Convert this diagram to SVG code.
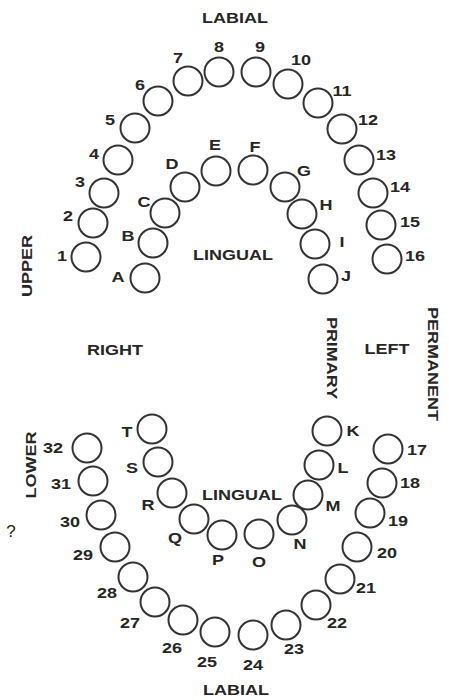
<svg xmlns="http://www.w3.org/2000/svg" width="449" height="700" viewBox="0 0 449 700">
  <style>
    .tooth { fill: #ffffff; stroke: #333333; stroke-width: 2; }
    .lbl { font-family: "Liberation Sans", Arial, sans-serif; font-weight: bold; font-size: 15px; fill: #262626; text-anchor: middle; }
    .q { font-family: "Liberation Sans", Arial, sans-serif; font-size: 17px; fill: #222; text-anchor: middle; }
  </style>
  <rect width="449" height="700" fill="#ffffff"/>

  <!-- Orientation labels -->
  <g id="orientation">
    <text class="lbl" transform="translate(235 23) scale(1.2 1)">LABIAL</text>
    <text class="lbl" transform="translate(236 695) scale(1.2 1)">LABIAL</text>
    <text class="lbl" transform="translate(233 260) scale(1.2 1)">LINGUAL</text>
    <text class="lbl" transform="translate(242 500) scale(1.2 1)">LINGUAL</text>
    <text class="lbl" transform="translate(115 355) scale(1.2 1)">RIGHT</text>
    <text class="lbl" transform="translate(387 354) scale(1.2 1)">LEFT</text>
    <text class="lbl" transform="translate(32 266) rotate(-90) scale(1.2 1)">UPPER</text>
    <text class="lbl" transform="translate(36 465) rotate(-90) scale(1.2 1)">LOWER</text>
    <text class="lbl" transform="translate(327 358) rotate(90) scale(1.2 1)">PRIMARY</text>
    <text class="lbl" transform="translate(428 364) rotate(90) scale(1.2 1)">PERMANENT</text>
    <text class="q" x="11" y="537">?</text>
  </g>

  <!-- Upper permanent teeth 1-16 -->
  <g id="tooth-1"><circle class="tooth" cx="86" cy="257" r="14.5"/><text class="lbl" transform="translate(62 261) scale(1.2 1)">1</text></g>
  <g id="tooth-2"><circle class="tooth" cx="93" cy="223" r="14.5"/><text class="lbl" transform="translate(68 221) scale(1.2 1)">2</text></g>
  <g id="tooth-3"><circle class="tooth" cx="104" cy="193" r="14.5"/><text class="lbl" transform="translate(80 187) scale(1.2 1)">3</text></g>
  <g id="tooth-4"><circle class="tooth" cx="118" cy="160" r="14.5"/><text class="lbl" transform="translate(94 159) scale(1.2 1)">4</text></g>
  <g id="tooth-5"><circle class="tooth" cx="135" cy="128" r="14.5"/><text class="lbl" transform="translate(110 125) scale(1.2 1)">5</text></g>
  <g id="tooth-6"><circle class="tooth" cx="158" cy="101" r="14.5"/><text class="lbl" transform="translate(140 90) scale(1.2 1)">6</text></g>
  <g id="tooth-7"><circle class="tooth" cx="188" cy="81" r="14.5"/><text class="lbl" transform="translate(178 63) scale(1.2 1)">7</text></g>
  <g id="tooth-8"><circle class="tooth" cx="219" cy="72" r="14.5"/><text class="lbl" transform="translate(219 52) scale(1.2 1)">8</text></g>
  <g id="tooth-9"><circle class="tooth" cx="256" cy="72" r="14.5"/><text class="lbl" transform="translate(260 52) scale(1.2 1)">9</text></g>
  <g id="tooth-10"><circle class="tooth" cx="288" cy="84" r="14.5"/><text class="lbl" transform="translate(301 65) scale(1.2 1)">10</text></g>
  <g id="tooth-11"><circle class="tooth" cx="318" cy="103" r="14.5"/><text class="lbl" transform="translate(342 96) scale(1.2 1)">11</text></g>
  <g id="tooth-12"><circle class="tooth" cx="342" cy="129" r="14.5"/><text class="lbl" transform="translate(368 125) scale(1.2 1)">12</text></g>
  <g id="tooth-13"><circle class="tooth" cx="359" cy="160" r="14.5"/><text class="lbl" transform="translate(386 160) scale(1.2 1)">13</text></g>
  <g id="tooth-14"><circle class="tooth" cx="373" cy="193" r="14.5"/><text class="lbl" transform="translate(400 192) scale(1.2 1)">14</text></g>
  <g id="tooth-15"><circle class="tooth" cx="381" cy="225" r="14.5"/><text class="lbl" transform="translate(410 227) scale(1.2 1)">15</text></g>
  <g id="tooth-16"><circle class="tooth" cx="387" cy="259" r="14.5"/><text class="lbl" transform="translate(415 261) scale(1.2 1)">16</text></g>

  <!-- Upper primary teeth A-J -->
  <g id="tooth-A"><circle class="tooth" cx="145" cy="278" r="14.5"/><text class="lbl" transform="translate(118 282) scale(1.2 1)">A</text></g>
  <g id="tooth-B"><circle class="tooth" cx="153" cy="243" r="14.5"/><text class="lbl" transform="translate(128 241) scale(1.2 1)">B</text></g>
  <g id="tooth-C"><circle class="tooth" cx="165" cy="213" r="14.5"/><text class="lbl" transform="translate(144 207) scale(1.2 1)">C</text></g>
  <g id="tooth-D"><circle class="tooth" cx="185" cy="187" r="14.5"/><text class="lbl" transform="translate(172 169) scale(1.2 1)">D</text></g>
  <g id="tooth-E"><circle class="tooth" cx="216" cy="171" r="14.5"/><text class="lbl" transform="translate(215 150) scale(1.2 1)">E</text></g>
  <g id="tooth-F"><circle class="tooth" cx="253" cy="170" r="14.5"/><text class="lbl" transform="translate(255 152) scale(1.2 1)">F</text></g>
  <g id="tooth-G"><circle class="tooth" cx="285" cy="187" r="14.5"/><text class="lbl" transform="translate(304 176) scale(1.2 1)">G</text></g>
  <g id="tooth-H"><circle class="tooth" cx="302" cy="214" r="14.5"/><text class="lbl" transform="translate(326 210) scale(1.2 1)">H</text></g>
  <g id="tooth-I"><circle class="tooth" cx="315" cy="244" r="14.5"/><text class="lbl" transform="translate(342 247) scale(1.2 1)">I</text></g>
  <g id="tooth-J"><circle class="tooth" cx="323" cy="279" r="14.5"/><text class="lbl" transform="translate(346 281) scale(1.2 1)">J</text></g>

  <!-- Lower primary teeth K-T -->
  <g id="tooth-K"><circle class="tooth" cx="327" cy="431" r="14.5"/><text class="lbl" transform="translate(353 436) scale(1.2 1)">K</text></g>
  <g id="tooth-L"><circle class="tooth" cx="319" cy="465" r="14.5"/><text class="lbl" transform="translate(343 473) scale(1.2 1)">L</text></g>
  <g id="tooth-M"><circle class="tooth" cx="308" cy="495" r="14.5"/><text class="lbl" transform="translate(333 511) scale(1.2 1)">M</text></g>
  <g id="tooth-N"><circle class="tooth" cx="292" cy="520" r="14.5"/><text class="lbl" transform="translate(300 549) scale(1.2 1)">N</text></g>
  <g id="tooth-O"><circle class="tooth" cx="259" cy="534" r="14.5"/><text class="lbl" transform="translate(259 567) scale(1.2 1)">O</text></g>
  <g id="tooth-P"><circle class="tooth" cx="222" cy="535" r="14.5"/><text class="lbl" transform="translate(218 565) scale(1.2 1)">P</text></g>
  <g id="tooth-Q"><circle class="tooth" cx="194" cy="519" r="14.5"/><text class="lbl" transform="translate(175 543) scale(1.2 1)">Q</text></g>
  <g id="tooth-R"><circle class="tooth" cx="172" cy="493" r="14.5"/><text class="lbl" transform="translate(148 510) scale(1.2 1)">R</text></g>
  <g id="tooth-S"><circle class="tooth" cx="158" cy="462" r="14.5"/><text class="lbl" transform="translate(132 473) scale(1.2 1)">S</text></g>
  <g id="tooth-T"><circle class="tooth" cx="152" cy="429" r="14.5"/><text class="lbl" transform="translate(127 437) scale(1.2 1)">T</text></g>

  <!-- Lower permanent teeth 17-32 -->
  <g id="tooth-17"><circle class="tooth" cx="388" cy="449" r="14.5"/><text class="lbl" transform="translate(417 455) scale(1.2 1)">17</text></g>
  <g id="tooth-18"><circle class="tooth" cx="382" cy="483" r="14.5"/><text class="lbl" transform="translate(410 488) scale(1.2 1)">18</text></g>
  <g id="tooth-19"><circle class="tooth" cx="370" cy="513" r="14.5"/><text class="lbl" transform="translate(398 526) scale(1.2 1)">19</text></g>
  <g id="tooth-20"><circle class="tooth" cx="357" cy="547" r="14.5"/><text class="lbl" transform="translate(387 558) scale(1.2 1)">20</text></g>
  <g id="tooth-21"><circle class="tooth" cx="340" cy="579" r="14.5"/><text class="lbl" transform="translate(366 593) scale(1.2 1)">21</text></g>
  <g id="tooth-22"><circle class="tooth" cx="316" cy="605" r="14.5"/><text class="lbl" transform="translate(337 628) scale(1.2 1)">22</text></g>
  <g id="tooth-23"><circle class="tooth" cx="286" cy="625" r="14.5"/><text class="lbl" transform="translate(294 654) scale(1.2 1)">23</text></g>
  <g id="tooth-24"><circle class="tooth" cx="253" cy="635" r="14.5"/><text class="lbl" transform="translate(253 670) scale(1.2 1)">24</text></g>
  <g id="tooth-25"><circle class="tooth" cx="215" cy="632" r="14.5"/><text class="lbl" transform="translate(207 667) scale(1.2 1)">25</text></g>
  <g id="tooth-26"><circle class="tooth" cx="183" cy="620" r="14.5"/><text class="lbl" transform="translate(172 653) scale(1.2 1)">26</text></g>
  <g id="tooth-27"><circle class="tooth" cx="155" cy="602" r="14.5"/><text class="lbl" transform="translate(130 628) scale(1.2 1)">27</text></g>
  <g id="tooth-28"><circle class="tooth" cx="133" cy="577" r="14.5"/><text class="lbl" transform="translate(107 598) scale(1.2 1)">28</text></g>
  <g id="tooth-29"><circle class="tooth" cx="115" cy="547" r="14.5"/><text class="lbl" transform="translate(83 560) scale(1.2 1)">29</text></g>
  <g id="tooth-30"><circle class="tooth" cx="101" cy="515" r="14.5"/><text class="lbl" transform="translate(70 527) scale(1.2 1)">30</text></g>
  <g id="tooth-31"><circle class="tooth" cx="93" cy="481" r="14.5"/><text class="lbl" transform="translate(61 489) scale(1.2 1)">31</text></g>
  <g id="tooth-32"><circle class="tooth" cx="87" cy="448" r="14.5"/><text class="lbl" transform="translate(53 453) scale(1.2 1)">32</text></g>

  <!-- No connectors in this chart -->
  <g id="connectors"/>
</svg>
